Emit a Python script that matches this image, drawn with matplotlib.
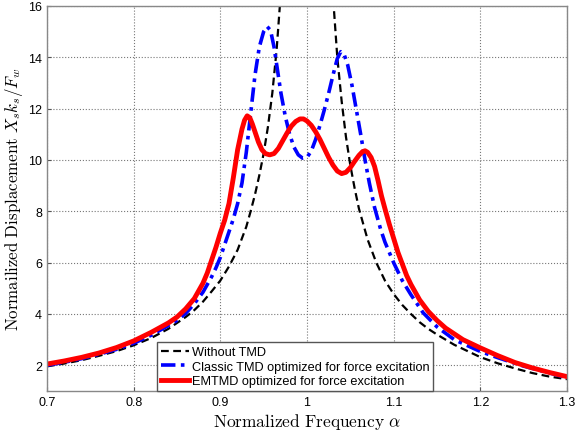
import numpy as np
import matplotlib
matplotlib.use('Agg')
import matplotlib.pyplot as plt

plt.rcParams['font.family'] = ['Liberation Sans', 'DejaVu Sans']
plt.rcParams['mathtext.fontset'] = 'cm'

# values
x_none = [0.70, 0.72, 0.74, 0.76, 0.78, 0.80, 0.82, 0.84, 0.86, 0.87, 0.88, 0.89,
          0.90, 0.91, 0.92, 0.93, 0.935, 0.94, 0.945, 0.95, 0.955, 0.96, 0.965,
          0.97, 0.975, 0.98, 0.99, 1.00, 1.01, 1.02, 1.025, 1.03, 1.035, 1.04,
          1.045, 1.05, 1.055, 1.06, 1.07, 1.08, 1.09, 1.10, 1.11, 1.12, 1.13,
          1.14, 1.15, 1.17, 1.20, 1.22, 1.24, 1.26, 1.28, 1.30]
y_none = [1.96, 2.07, 2.20, 2.37, 2.55, 2.78, 3.06, 3.42, 3.88, 4.15, 4.48, 4.88,
          5.30, 5.85, 6.50, 7.40, 8.00, 8.65, 9.40, 10.25, 11.3, 12.6, 14.3,
          16.6, 20.0, 25.0, 35.0, 42.0, 35.0, 25.0, 20.3, 16.4, 14.0, 12.3,
          10.9, 9.8, 8.9, 8.1, 6.9, 6.0, 5.3, 4.78, 4.35, 4.0, 3.68,
          3.42, 3.20, 2.80, 2.32, 2.08, 1.88, 1.70, 1.56, 1.46]

x_tmd = [0.70, 0.72, 0.74, 0.76, 0.78, 0.80, 0.82, 0.84, 0.85, 0.86, 0.87, 0.88,
         0.89, 0.895, 0.90, 0.905, 0.91, 0.915, 0.92, 0.925, 0.93, 0.935, 0.94,
         0.945, 0.95, 0.954, 0.958, 0.962, 0.966, 0.97, 0.975, 0.98, 0.985, 0.99,
         0.995, 1.00, 1.005, 1.01, 1.015, 1.02, 1.025, 1.03, 1.035, 1.039, 1.043,
         1.047, 1.052, 1.057, 1.062, 1.067, 1.072, 1.078, 1.085, 1.09, 1.10, 1.11,
         1.12, 1.134, 1.15, 1.17, 1.20, 1.22, 1.25, 1.28, 1.30]
y_tmd = [2.00, 2.12, 2.26, 2.43, 2.62, 2.86, 3.17, 3.55, 3.75, 4.02, 4.40, 4.85,
         5.45, 5.80, 6.20, 6.70, 7.20, 7.70, 8.30, 9.10, 10.3, 11.8, 13.3,
         14.4, 15.0, 15.2, 15.05, 14.4, 13.5, 12.6, 11.7, 11.0, 10.5, 10.2,
         10.07, 10.1, 10.35, 10.8, 11.35, 11.95, 12.6, 13.3, 13.95, 14.22, 14.1,
         13.7, 12.9, 11.95, 11.0, 10.0, 9.1, 8.15, 7.3, 6.8, 6.0, 5.3,
         4.75, 4.05, 3.5, 3.0, 2.54, 2.30, 1.97, 1.70, 1.52]

x_em = [0.70, 0.72, 0.74, 0.76, 0.78, 0.80, 0.82, 0.84, 0.85, 0.86, 0.87, 0.875,
        0.88, 0.885, 0.89, 0.895, 0.90, 0.905, 0.91, 0.915, 0.92, 0.925, 0.928,
        0.931, 0.934, 0.937, 0.94, 0.944, 0.948, 0.952, 0.957, 0.962, 0.967, 0.972,
        0.977, 0.982, 0.987, 0.992, 0.996, 1.00, 1.005, 1.01, 1.015, 1.02, 1.025,
        1.03, 1.035, 1.04, 1.045, 1.05, 1.055, 1.06, 1.064, 1.067, 1.07, 1.074,
        1.078, 1.082, 1.086, 1.09, 1.095, 1.10, 1.105, 1.11, 1.115, 1.12, 1.13,
        1.14, 1.15, 1.16, 1.18, 1.20, 1.22, 1.24, 1.26, 1.28, 1.30]
y_em = [2.05, 2.17, 2.31, 2.48, 2.69, 2.95, 3.28, 3.65, 3.88, 4.20, 4.60, 4.90,
        5.20, 5.60, 6.10, 6.60, 7.15, 7.65, 8.30, 9.30, 10.4, 11.2, 11.55,
        11.72, 11.65, 11.4, 11.1, 10.7, 10.4, 10.25, 10.2, 10.25, 10.45, 10.75,
        11.05, 11.32, 11.5, 11.6, 11.6, 11.52, 11.35, 11.1, 10.8, 10.45, 10.1,
        9.8, 9.57, 9.47, 9.52, 9.70, 9.95, 10.18, 10.32, 10.36, 10.3, 10.1,
        9.75, 9.2, 8.6, 8.1, 7.5, 6.95, 6.4, 5.95, 5.5, 5.15, 4.55,
        4.10, 3.75, 3.45, 3.00, 2.68, 2.38, 2.11, 1.90, 1.72, 1.56]

x_ticks = [0.7, 0.8, 0.9, 1.0, 1.1, 1.2, 1.3]
x_ticklabels = ['0.7', '0.8', '0.9', '1', '1.1', '1.2', '1.3']
y_ticks = [2, 4, 6, 8, 10, 12, 14, 16]

fig = plt.figure(figsize=(5.75, 4.31), dpi=100)
ax = fig.add_axes([0.0817, 0.0905, 0.9043, 0.8933])

ax.plot(x_none, y_none, color='black', linestyle=(0, (3.5, 2)), linewidth=1.6,
        label='Without TMD')
ax.plot(x_tmd, y_tmd, color='blue', linestyle=(0, (4, 1.5, 1, 1.5)), linewidth=2.6,
        label='Classic TMD optimized for force excitation')
ax.plot(x_em, y_em, color='red', linestyle='-', linewidth=3.5,
        label='EMTMD optimized for force excitation')

ax.set_xlim(0.7, 1.3)
ax.set_ylim(1, 16)
ax.set_xticks(x_ticks)
ax.set_xticklabels(x_ticklabels)
ax.set_yticks(y_ticks)
ax.tick_params(direction='in', labelsize=9, length=3, color='#555555')
ax.grid(True, linestyle=':', color='#777777', linewidth=0.8)
for s in ax.spines.values():
    s.set_color('#888888')
    s.set_linewidth(1.0)

ax.set_xlabel(r'$\mathrm{Normalized\ Frequency}\ \alpha$', fontsize=12.5, labelpad=2)
ax.set_ylabel(r'$\mathrm{Normailized\ Displacement}\ X_s k_s/F_w$', fontsize=12.2)
ax.yaxis.set_label_coords(-0.042, 0.5)

leg = ax.legend(loc='lower left', bbox_to_anchor=(0.211, 0.0), borderaxespad=0,
                fontsize=9.2, handlelength=2.2, handletextpad=0.25, labelspacing=0.2,
                fancybox=False, framealpha=1, borderpad=0.3)
leg.get_frame().set_edgecolor('#555555')
leg.get_frame().set_linewidth(1.0)

fig.savefig('out.png', dpi=100)
